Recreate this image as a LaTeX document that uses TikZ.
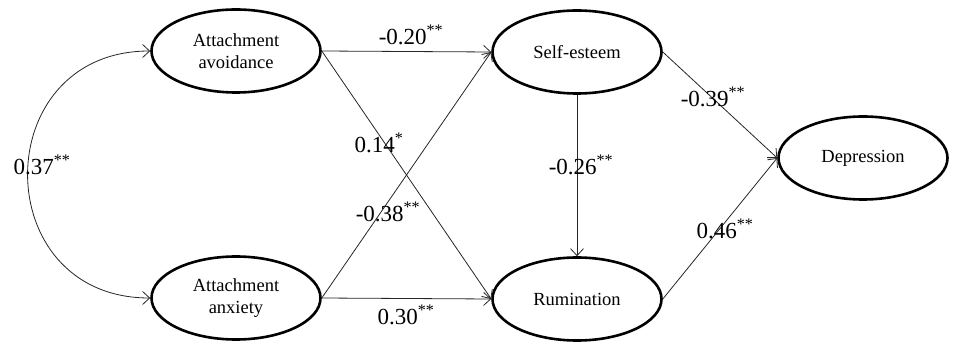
\documentclass[tikz,border=0pt]{standalone}
\usepackage{fontspec}
\setmainfont{Liberation Serif}
\usetikzlibrary{shapes.geometric,arrows.meta}
\begin{document}
\begin{tikzpicture}[x=1pt,y=-1pt,
  var/.style={ellipse,draw,line width=2.6pt,minimum width=169pt,minimum height=83pt,inner sep=0pt,align=center,font=\fontsize{18.5}{22}\selectfont},
  pth/.style={-{Straight Barb[length=7pt,width=13pt]},line width=0.8pt,black!85},
  coef/.style={font=\fontsize{23}{26}\selectfont,inner sep=0pt}]
\useasboundingbox (0,0) rectangle (957,352);
\node[var] (av) at (236,51) {Attachment\\avoidance};
\node[var] (an) at (236,298) {Attachment\\anxiety};
\node[var] (se) at (577,52) {Self-esteem};
\node[var] (ru) at (577,299) {Rumination};
\node[var] (de) at (863,158) {Depression};
\draw[pth] (av.east) -- (se.west);
\draw[pth] (av.east) -- (ru.west);
\draw[pth] (an.east) -- (se.west);
\draw[pth] (an.east) -- (ru.west);
\draw[pth] (se.south) -- (ru.north);
\draw[pth] (se.east) -- (de.west);
\draw[pth] (ru.east) -- (de.west);
\draw[pth,{Straight Barb[length=7pt,width=13pt]}-{Straight Barb[length=7pt,width=13pt]}] (av.west) .. controls (-13,51) and (-13,298) .. (an.west);
\node[coef] (l1) at (411,35) {-0.20\textsuperscript{**}};
\node[coef] (l2) at (379,143) {0.14\textsuperscript{*}};
\node[coef] (l3) at (388,212) {-0.38\textsuperscript{**}};
\node[coef] (l4) at (406,315) {0.30\textsuperscript{**}};
\node[coef] (l5) at (581,165) {-0.26\textsuperscript{**}};
\node[coef] (l6) at (713,97) {-0.39\textsuperscript{**}};
\node[coef] (l7) at (725,229) {0.46\textsuperscript{**}};
\node[coef] (l8) at (42,165) {0.37\textsuperscript{**}};
\end{tikzpicture}
\end{document}
